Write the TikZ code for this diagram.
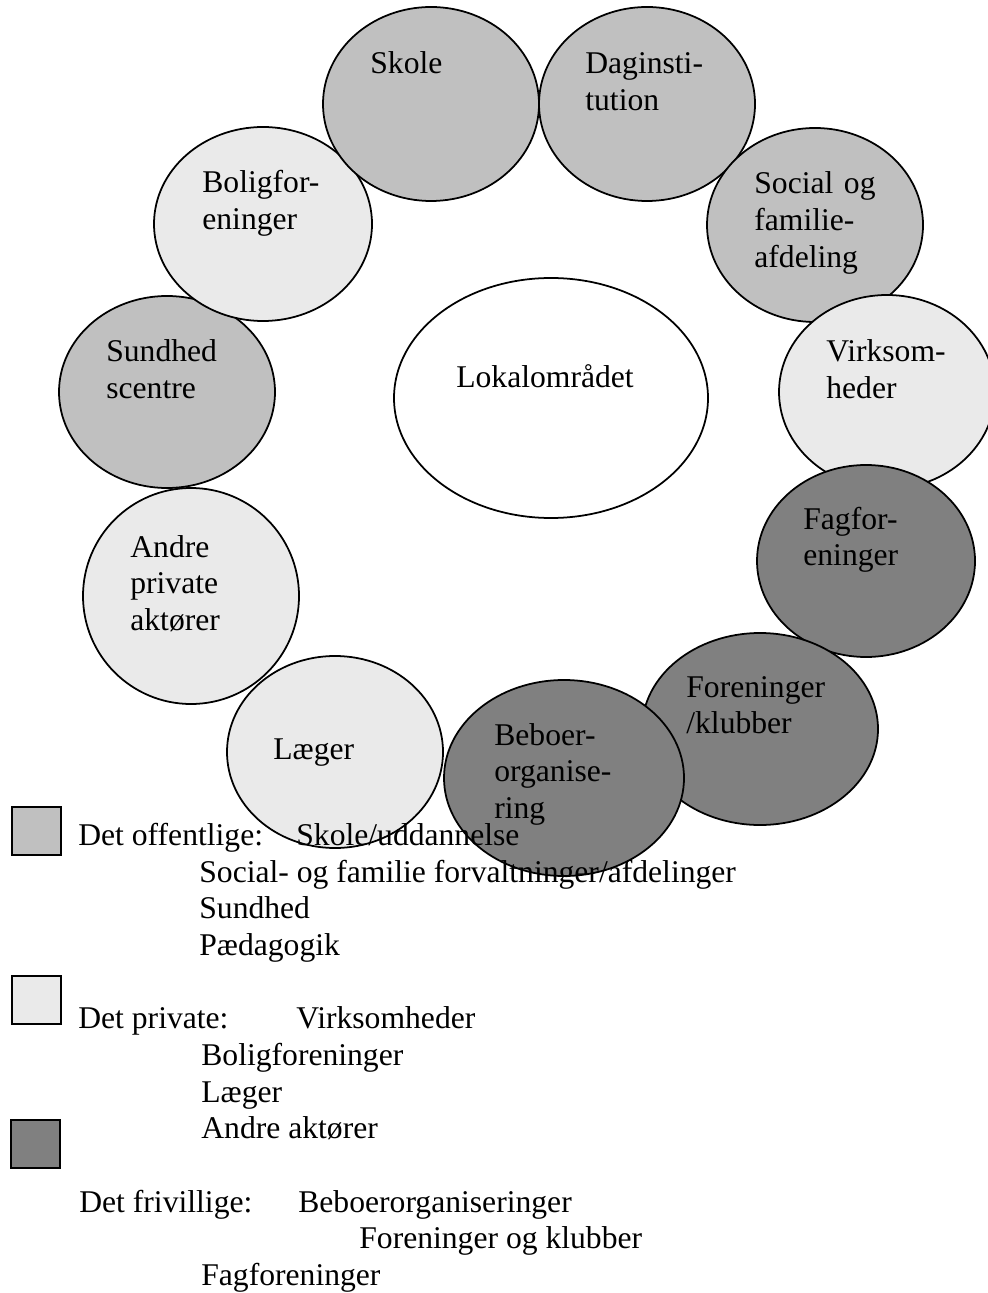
\documentclass[tikz,border=0pt]{standalone}
\usepackage{fontspec}
\setmainfont{Liberation Serif}
\usetikzlibrary{shapes.geometric}
\newlength\px
\setlength\px{0.02cm}
\definecolor{offentlig}{HTML}{C0C0C0}
\definecolor{privat}{HTML}{EAEAEA}
\definecolor{frivillig}{HTML}{808080}
\tikzset{
	aktor/.style 2 args={
			ellipse, draw, line width=1pt, inner sep=0pt,
			minimum width=#1\px, minimum height=#2\px},
	tekst/.style={anchor=base west, inner sep=0pt, font=\fontsize{18}{21}\selectfont},
	flere/.style={tekst, text width=6cm, align=left},
	felt/.style={draw, line width=1pt, anchor=north west, inner sep=0pt,
			minimum width=49\px, minimum height=48\px}
}

\begin{document}
\begin{tikzpicture}[x=0.02cm, y=-0.02cm]
        \useasboundingbox (0,0) rectangle (987,1293);
        % ringen af aktoerer
        \node[aktor={216}{192}, fill=offentlig] (sundhed) at (167,392) {};
        \node[aktor={218}{194}, fill=privat] (bolig) at (263,224) {};
        \node[aktor={216}{194}, fill=offentlig] (skole) at (431,104) {};
        \node[aktor={216}{194}, fill=offentlig] (dagin) at (647,104) {};
        \node[aktor={216}{194}, fill=offentlig] (social) at (815,225) {};
        \node[aktor={216}{194}, fill=privat] (virk) at (887,392) {};
        \node[aktor={218}{192}, fill=frivillig] (fag) at (866,561) {};
        \node[aktor={236}{192}, fill=frivillig] (foren) at (760,729) {};
        \node[aktor={240}{196}, fill=frivillig] (beboer) at (564,778) {};
        \node[aktor={216}{216}, fill=privat] (andre) at (191,596) {};
        \node[aktor={216}{192}, fill=privat] (laeger) at (335,752) {};
        \node[aktor={314}{240}, fill=white] (lokal) at (551,398) {};

        \node[tekst] (skoleT) at (370,74) {Skole};
        \node[flere] (daginT) at (585,74) {Daginsti-\\tution};
        \node[flere] (boligT) at (202,193) {Boligfor-\\eninger};
        \node[flere] (socialT) at (754,194) {Social og\\familie-\\afdeling};
        \node[flere] (sundhedT) at (106,362) {Sundhed\\scentre};
        \node[tekst] (lokalT) at (456,388) {Lokalområdet};
        \node[flere] (virkT) at (826,362) {Virksom-\\heder};
        \node[flere] (andreT) at (130,557) {Andre\\private\\aktører};
        \node[flere] (fagT) at (803,529) {Fagfor-\\eninger};
        \node[flere] (forenT) at (686,697) {Foreninger\\/klubber};
        \node[tekst] (laegerT) at (273,759) {Læger};
        \node[flere] (beboerT) at (494,745) {Beboer-\\organise-\\ring};

        % forklaring
        \node[felt, fill=offentlig] (felt1) at (11,806) {};
        \node[tekst] (offentligT) at (78,845) {Det offentlige:};
        \node[tekst] (off1) at (296,845) {Skole/uddannelse};
        \node[tekst] (off2) at (199,882) {Social- og familie forvaltninger/afdelinger};
        \node[tekst] (off3) at (199,918) {Sundhed};
        \node[tekst] (off4) at (199,955) {Pædagogik};

        \node[felt, fill=privat] (felt2) at (11,975) {};
        \node[tekst] (privatT) at (78,1028) {Det private:};
        \node[tekst] (priv1) at (296,1028) {Virksomheder};
        \node[tekst] (priv2) at (201,1065) {Boligforeninger};
        \node[tekst] (priv3) at (201,1102) {Læger};
        \node[tekst] (priv4) at (201,1138) {Andre aktører};

        \node[felt, fill=frivillig] (felt3) at (10,1119) {};
        \node[tekst] (frivilligT) at (79,1212) {Det frivillige:};
        \node[tekst] (friv1) at (298,1212) {Beboerorganiseringer};
        \node[tekst] (friv2) at (359,1248) {Foreninger og klubber};
        \node[tekst] (friv3) at (201,1285) {Fagforeninger};
\end{tikzpicture}
\end{document}
